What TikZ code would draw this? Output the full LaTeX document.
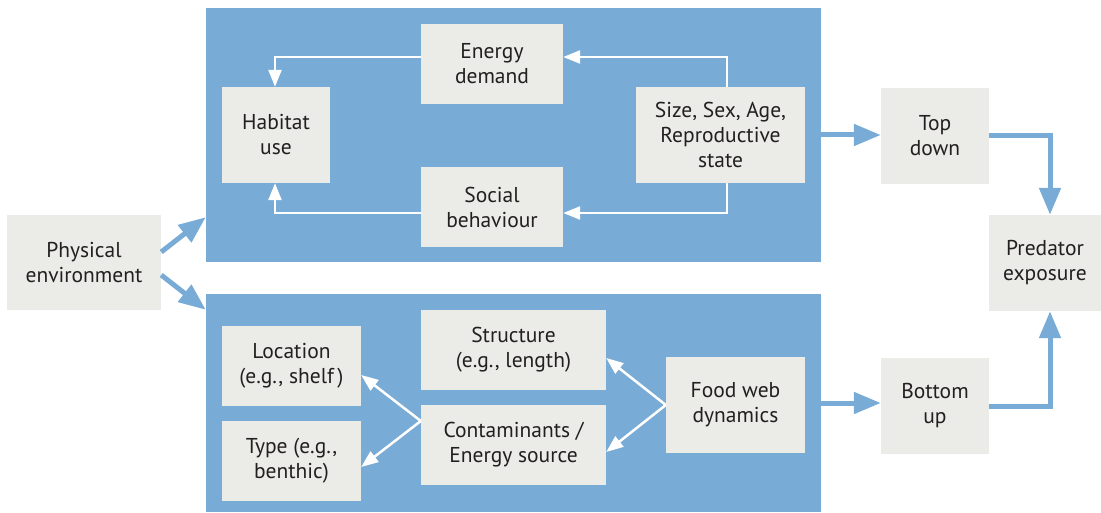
\documentclass[tikz,border=0pt]{standalone}
\usepackage{fontspec}
\setmainfont{PT Sans}
\usetikzlibrary{arrows.meta}
\definecolor{panelblue}{HTML}{78ABD6}
\definecolor{boxgray}{HTML}{EBEBE7}
\definecolor{txt}{HTML}{231F20}
\begin{document}
\begin{tikzpicture}[x=1pt,y=-1pt,
  font=\fontsize{21.5}{25}\selectfont,
  panel/.style={fill=panelblue, draw=none, inner sep=0pt},
  gbox/.style={fill=boxgray, draw=none, inner sep=0pt, align=center, text=txt},
  warrow/.style={draw=white, line width=2.5pt, -{Triangle[length=17pt,width=13pt]}},
  barrow/.style={draw=panelblue, line width=5pt, -{Triangle[length=27pt,width=21pt]}}]
\useasboundingbox (0,0) rectangle (1101,513);
% panels
\node[panel, minimum width=615pt, minimum height=254pt] (toppanel) at (513.5,135) {};
\node[panel, minimum width=615pt, minimum height=218pt] (botpanel) at (513.5,403) {};
% boxes
\node[gbox, minimum width=154pt, minimum height=95pt] (phys) at (84,262.5) {Physical\\environment};
\node[gbox, minimum width=142pt, minimum height=80pt] (energy) at (492,64) {Energy\\demand};
\node[gbox, minimum width=108pt, minimum height=96pt] (habitat) at (276,135) {Habitat\\use};
\node[gbox, minimum width=142pt, minimum height=80pt] (social) at (492,207) {Social\\behaviour};
\node[gbox, minimum width=169pt, minimum height=96pt] (size) at (720.5,135) {Size, Sex, Age,\\Reproductive\\state};
\node[gbox, minimum width=108pt, minimum height=96pt] (topdown) at (935,136) {Top\\down};
\node[gbox, minimum width=112pt, minimum height=96pt] (pred) at (1045,263) {Predator\\exposure};
\node[gbox, minimum width=108pt, minimum height=96pt] (bottomup) at (935,406) {Bottom\\up};
\node[gbox, minimum width=139pt, minimum height=80pt] (location) at (291.5,366) {Location\\(e.g., shelf\,)};
\node[gbox, minimum width=139pt, minimum height=80pt] (type) at (291.5,461) {Type (e.g.,\\benthic)};
\node[gbox, minimum width=185pt, minimum height=80pt] (structure) at (513.5,350) {Structure\\(e.g., length)};
\node[gbox, minimum width=185pt, minimum height=80pt] (contam) at (513.5,445) {Contaminants /\\Energy source};
\node[gbox, minimum width=139pt, minimum height=96pt] (foodweb) at (735.5,405) {Food web\\dynamics};
% white connectors, top panel
\draw[warrow] ([yshift=7pt]energy.west) -| ([xshift=-1pt]habitat.north);
\draw[warrow] ([xshift=6.5pt]size.north) |- ([yshift=7pt]energy.east);
\draw[warrow] ([xshift=6.5pt]size.south) |- ([yshift=-6pt]social.east);
\draw[warrow] ([yshift=-6pt]social.west) -| ([xshift=-1pt]habitat.south);
% white connectors, bottom panel
\coordinate (cw) at ([yshift=24pt]contam.west);
\draw[warrow] (cw) -- ([yshift=-9pt]location.east);
\draw[warrow] (cw) -- ([yshift=-6pt]type.east);
\draw[warrow] (foodweb.west) -- ([yshift=-8pt]structure.east);
\draw[warrow] (foodweb.west) -- ([yshift=-7pt]contam.east);
% blue connectors
\draw[barrow] ([yshift=10.5pt]phys.east) -- ([yshift=45pt]toppanel.south west);
\draw[barrow] ([yshift=-12.5pt]phys.east) -- ([yshift=-16pt]botpanel.north west);
\draw[barrow] (toppanel.east) -- (toppanel.east -| topdown.west);
\draw[barrow] (topdown.east) -| ([xshift=5pt]pred.north);
\draw[barrow] (botpanel.east) -- (botpanel.east -| bottomup.west);
\draw[barrow] (bottomup.east) -| ([xshift=5pt]pred.south);
\end{tikzpicture}
\end{document}
